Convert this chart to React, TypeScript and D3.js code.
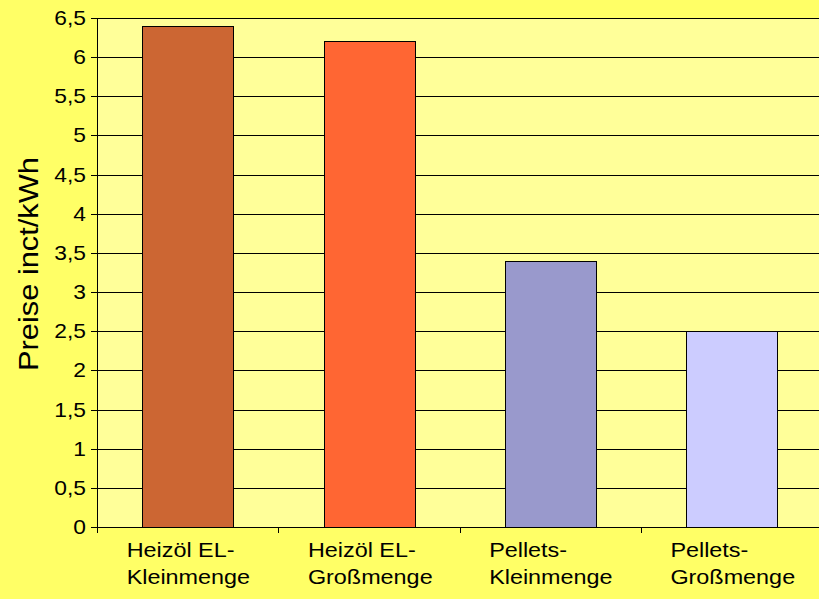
import React from "react";
import * as d3 from "d3";

const categoriesLine1 = ["Heizöl EL-", "Heizöl EL-", "Pellets-", "Pellets-"];
const categoriesLine2 = ["Kleinmenge", "Großmenge", "Kleinmenge", "Großmenge"];
const values = [6.4, 6.2, 3.4, 2.5];
const barColors = ["#CC6633", "#FF6633", "#9999CC", "#CCCCFF"];
const yTicks = [0, 0.5, 1, 1.5, 2, 2.5, 3, 3.5, 4, 4.5, 5, 5.5, 6, 6.5];
const yTitle = "Preise inct/kWh";

const W = 819;
const H = 599;
const left = 97;
const right = 822;
const top = 18;
const bottom = 527;
const FONT = "'Liberation Sans', Arial, sans-serif";

export default function App() {
  const ids = categoriesLine2.map((_, i) => String(i));
  const x = d3.scaleBand<string>().domain(ids).range([left, right]).padding(0);
  const y = d3.scaleLinear().domain([0, 6.5]).range([bottom, top]);
  const bw = x.bandwidth();
  const fmt = (v: number) => String(v).replace(".", ",");

  return (
    <svg
      width={W}
      height={H}
      style={{ position: "absolute", left: 0, top: 0, display: "block" }}
      fontFamily={FONT}
    >
      <rect x={0} y={0} width={W} height={H} fill="#FFFF66" />
      <rect x={left} y={top} width={right - left} height={bottom - top} fill="#FFFF99" />
      {yTicks.map((t) => (
        <line
          key={"g" + t}
          x1={left - 6}
          x2={right}
          y1={Math.round(y(t)) + 0.5}
          y2={Math.round(y(t)) + 0.5}
          stroke="#000"
          strokeWidth={1}
        />
      ))}
      {values.map((v, i) => {
        const x0 = (x(ids[i]) as number) + bw / 4;
        return (
          <rect
            key={"b" + i}
            x={Math.round(x0) + 0.5}
            y={Math.round(y(v)) + 0.5}
            width={Math.round(bw / 2)}
            height={Math.round(y(0)) - Math.round(y(v))}
            fill={barColors[i]}
            stroke="#000"
            strokeWidth={1}
          />
        );
      })}
      <line x1={left + 0.5} x2={left + 0.5} y1={top} y2={bottom + 6} stroke="#000" />
      {ids.slice(1).map((id) => (
        <line
          key={"t" + id}
          x1={Math.round(x(id) as number) + 0.5}
          x2={Math.round(x(id) as number) + 0.5}
          y1={bottom}
          y2={bottom + 6}
          stroke="#000"
        />
      ))}
      {yTicks.map((t) => (
        <g key={"l" + t} transform={`translate(86,${y(t) + 7}) scale(1.14,1)`}>
          <text x={0} y={0} textAnchor="end" fontSize={20} fill="#000">
            {fmt(t)}
          </text>
        </g>
      ))}
      {ids.map((id, i) => {
        const cx = (x(id) as number) + bw / 2;
        return (
          <g key={"c" + i} transform={`translate(${cx - 61},0) scale(1.17,1)`}>
            <text x={0} y={557} fontSize={20} fill="#000">
              {categoriesLine1[i]}
            </text>
            <text x={0} y={584} fontSize={20} fill="#000">
              {categoriesLine2[i]}
            </text>
          </g>
        );
      })}
      <g transform={`translate(38,264) rotate(-90) scale(1.1,1)`}>
        <text x={0} y={0} textAnchor="middle" fontSize={28} fill="#000">
          {yTitle}
        </text>
      </g>
    </svg>
  );
}
